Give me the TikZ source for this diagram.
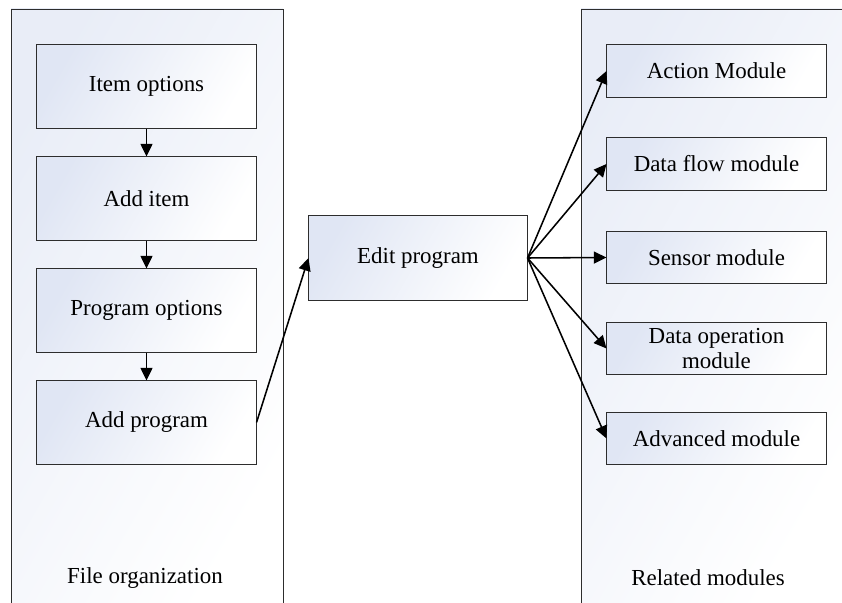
\documentclass[tikz,border=0pt]{standalone}
\usepackage{fontspec}
\setmainfont{Liberation Serif}
\usetikzlibrary{arrows.meta}
\definecolor{boxblue}{RGB}{224,230,244}
\definecolor{edgegray}{RGB}{45,45,45}
\tikzset{
  leftbox/.style={draw=edgegray, line width=0.7pt, left color=boxblue, right color=white, shading angle=60,
    minimum width=5.475cm, minimum height=2.075cm, align=center, font=\fontsize{16.3}{18}\selectfont},
  rightbox/.style={leftbox, minimum height=1.3cm},
  panelfill/.style={left color=boxblue!70, right color=white, shading angle=60},
  flowarrow/.style={-{Triangle[length=9pt,width=8.5pt]}, line width=1.1pt}
}
\begin{document}
\begin{tikzpicture}[x=0.025cm,y=-0.025cm]
		%%%%% START %%%%%
		\useasboundingbox (0, 0) rectangle (842, 603);
		
		\shade[panelfill] (11, 9) rectangle (283, 603);
		\draw[edgegray, line width=0.7pt] (11, 603) -- (11, 9) -- (283, 9) -- (283, 603);
		
		\shade[panelfill] (581, 9) rectangle (842, 603);
		\draw[edgegray, line width=0.7pt] (581, 603) -- (581, 9) -- (842, 9);
		
		\node[leftbox] (itemopt) at (146.5, 86.5) {Item options};
		\node[leftbox] (additem) at (146.5, 198.5) {Add item};
		\node[leftbox] (progopt) at (146.5, 310.5) {Program options};
		\node[leftbox] (addprog) at (146.5, 422.5) {Add program};
		
		\node[leftbox, minimum width=5.45cm, minimum height=2.1cm] (editprog) at (418, 258) {Edit program};
		
		\node[rightbox] (action) at (716.5, 71) {Action Module};
		\node[rightbox] (dataflow) at (716.5, 164) {Data flow module};
		\node[rightbox] (sensor) at (716.5, 257.5) {Sensor module};
		\node[rightbox] (dataop) at (716.5, 348.5) {Data operation\\module};
		\node[rightbox] (advanced) at (716.5, 438.5) {Advanced module};
		
		\draw[flowarrow] (itemopt) -- (additem);
		\draw[flowarrow] (additem) -- (progopt);
		\draw[flowarrow] (progopt) -- (addprog);
		\draw[flowarrow] (addprog.east) -- (editprog.west);
		
		\foreach \m in {action, dataflow, sensor, dataop, advanced}
			\draw[flowarrow] (editprog.east) -- (\m.west);
		
		\node[font=\fontsize{16.3}{18}\selectfont] (leftlabel) at (145, 578) {File organization};
		\node[font=\fontsize{16.3}{18}\selectfont] (rightlabel) at (708, 578) {Related modules};
		%%%%% END %%%%%
\end{tikzpicture}
\end{document}
